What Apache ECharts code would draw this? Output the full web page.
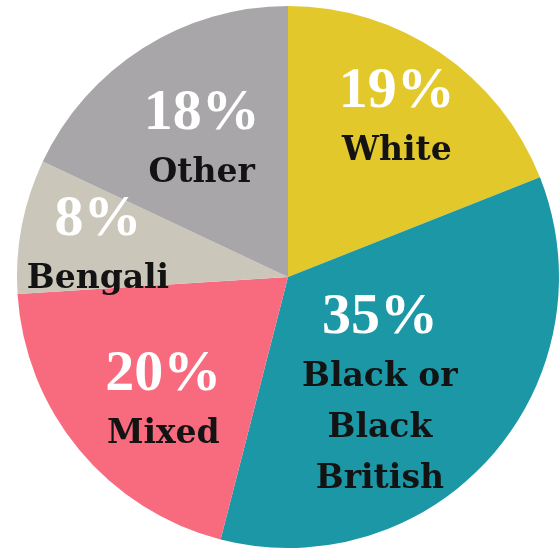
<!DOCTYPE html>
<html>
<head>
<meta charset="utf-8">
<script src="https://cdn.jsdelivr.net/npm/echarts@6/dist/echarts.min.js"></script>
<style>
  html, body { margin: 0; padding: 0; background: #fff; }
  #chart { width: 559px; height: 550px; }
</style>
</head>
<body>
<div id="chart"></div>
<script>
// 数据
const groups = ["White", "Black or\nBlack\nBritish", "Mixed", "Bengali", "Other"];
const shares = [19, 35, 20, 8, 18];
const sliceColors = ["#e3c82b", "#1c97a6", "#f86b7f", "#cac7ba", "#a8a6a9"];
// 标签偏移 (相对默认 inside 位置)
const labelShift = [[31, -45], [-12, 26], [-18, 35], [-54, -6], [-12, -21]];

const chart = echarts.init(document.getElementById("chart"));

const option = {
    animation: false,
    series: [
        {
            type: "pie",
            center: [288, 277],
            radius: 271,
            startAngle: 90,
            clockwise: true,
            avoidLabelOverlap: false,
            data: groups.map((name, i) => ({
                name: name,
                value: shares[i],
                itemStyle: { color: sliceColors[i] },
            })),
            label: {
                position: "inside",
                formatter: function (p) {
                    const lines = p.name.split("\n").map((s) => "{n|" + s + "}");
                    return "{p|" + p.value + "%}\n" + lines.join("\n");
                },
                rich: {
                    p: {
                        fontFamily: "Liberation Serif",
                        fontWeight: "bold",
                        fontSize: 58,
                        color: "#ffffff",
                        lineHeight: 68,
                        align: "center",
                    },
                    n: {
                        fontFamily: "DejaVu Serif",
                        fontWeight: "bold",
                        fontSize: 33,
                        color: "#131313",
                        lineHeight: 51,
                        align: "center",
                    },
                },
            },
            labelLine: { show: false },
            labelLayout: function (params) {
                const s = labelShift[params.dataIndex];
                return { dx: s[0], dy: s[1] };
            },
        },
    ],
};

chart.setOption(option);
</script>
</body>
</html>
